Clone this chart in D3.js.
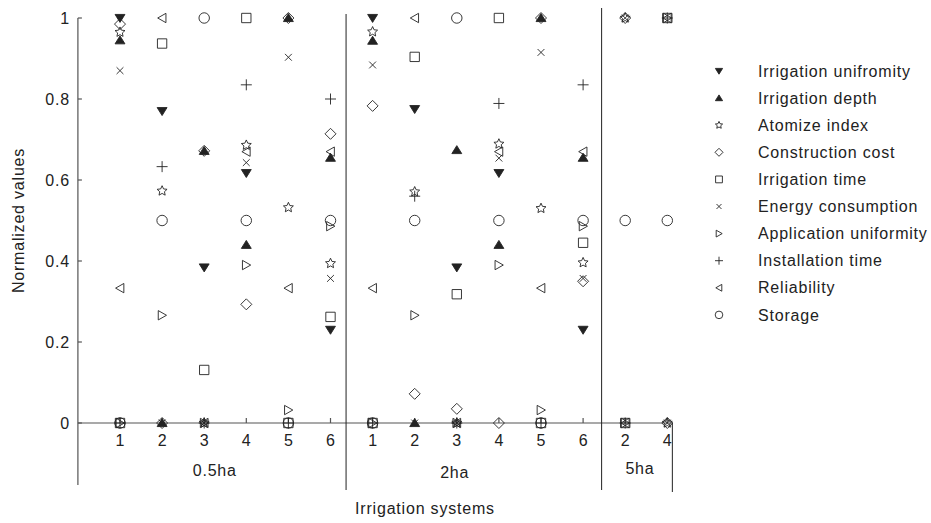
<!DOCTYPE html>
<html>
<head>
<meta charset="utf-8">
<script src="https://cdn.jsdelivr.net/npm/d3@7"></script>
<style>
  body { margin: 0; background: #fff; }
  svg text { font-family: "Liberation Sans", Arial, sans-serif; fill: #222; }
</style>
</head>
<body>
<svg id="chart"></svg>
<script>
(function(){
	///////////////////////////////////////////////////////////////////
	//// Data /////////////////////////////////////////////////////////
	///////////////////////////////////////////////////////////////////
	// x positions: 0.5ha systems 1-6, 2ha systems 1-6, 5ha systems 2 and 4
	const categories = ["1", "2", "3", "4", "5", "6", "1", "2", "3", "4", "5", "6", "2", "4"];
	const categoryGroup = [0, 0, 0, 0, 0, 0, 1, 1, 1, 1, 1, 1, 2, 2];
	const groupNames = ["0.5ha", "2ha", "5ha"];
	const yTicks = [0, 0.2, 0.4, 0.6, 0.8, 1];

	const uniformity   = [1, 0.77, 0.384, 0.617, null, 0.23, 1, 0.775, 0.384, 0.617, null, 0.23, null, null];
	const depth        = [0.945, 0, 0.672, 0.44, 1, 0.655, 0.944, 0, 0.674, 0.44, 1, 0.655, null, null];
	const atomize      = [0.965, 0.573, 0, 0.686, 0.532, 0.394, 0.966, 0.571, 0, 0.689, 0.53, 0.396, 1, 0];
	const construction = [0.985, 0, 0.672, 0.293, 1, 0.714, 0.783, 0.072, 0.035, 0, 1, 0.35, 1, 0];
	const irrTime      = [0, 0.937, 0.131, 1, 0, 0.262, 0, 0.904, 0.318, 1, 0, 0.445, 0, 1];
	const energy       = [0.87, 0, 0, 0.643, 0.903, 0.357, 0.884, 0, 0, 0.654, 0.915, 0.357, 1, 0];
	const application  = [0, 0.266, 0, 0.39, 0.032, 0.486, 0, 0.266, 0, 0.39, 0.032, 0.486, 0, 1];
	const installation = [0, 0.633, 0, 0.835, 0, 0.8, 0, 0.56, 0, 0.789, 0, 0.835, 0, 1];
	const reliability  = [0.333, 1, 0, 0.67, 0.333, 0.67, 0.333, 1, 0, 0.67, 0.333, 0.67, 0, 1];
	const storage      = [0, 0.5, 1, 0.5, 0, 0.5, 0, 0.5, 1, 0.5, 0, 0.5, 0.5, 0.5];

	const series = [
		{name: "Irrigation unifromity", shape: "down", values: uniformity},
		{name: "Irrigation depth", shape: "up", values: depth},
		{name: "Atomize index", shape: "star", values: atomize},
		{name: "Construction cost", shape: "diamond", values: construction},
		{name: "Irrigation time", shape: "square", values: irrTime},
		{name: "Energy consumption", shape: "cross", values: energy},
		{name: "Application uniformity", shape: "right", values: application},
		{name: "Installation time", shape: "plus", values: installation},
		{name: "Reliability", shape: "left", values: reliability},
		{name: "Storage", shape: "circle", values: storage}
	];

	///////////////////////////////////////////////////////////////////
	//// Set Up ///////////////////////////////////////////////////////
	///////////////////////////////////////////////////////////////////
	const W = 931, H = 523;
	const ink = "#222";
	const axisColor = "#555";

	const svg = d3.select("#chart")
			.attr("width", W)
			.attr("height", H);

	// index 0..14 along the x axis
	const x = d3.scaleLinear()
			.domain([0, 14])
			.range([77.9, 667.3]);

	const y = d3.scaleLinear()
			.domain([0, 1])
			.range([423, 18]);

	const font = {size: 16, spacing: 0.8};

	///////////////////////////////////////////////////////////////////
	// Marker shapes
	function markerPath(shape, s) {
		const p = d3.path();
		const h = s / 2;
		if (shape === "down") {
			p.moveTo(-h * 0.9, -h * 0.65); p.lineTo(h * 0.9, -h * 0.65); p.lineTo(0, h * 0.8); p.closePath();
		} else if (shape === "up") {
			p.moveTo(-h * 0.9, h * 0.65); p.lineTo(h * 0.9, h * 0.65); p.lineTo(0, -h * 0.8); p.closePath();
		} else if (shape === "star") {
			for (let i = 0; i < 10; i++) {
				const r = i % 2 ? h * 0.45 : h * 0.95;
				const a = -Math.PI / 2 + i * Math.PI / 5;
				if (i === 0) p.moveTo(r * Math.cos(a), r * Math.sin(a));
				else p.lineTo(r * Math.cos(a), r * Math.sin(a));
			}
			p.closePath();
		} else if (shape === "diamond") {
			p.moveTo(0, -h); p.lineTo(h, 0); p.lineTo(0, h); p.lineTo(-h, 0); p.closePath();
		} else if (shape === "square") {
			p.rect(-h * 0.85, -h * 0.85, h * 1.7, h * 1.7);
		} else if (shape === "cross") {
			const c = h * 0.62;
			p.moveTo(-c, -c); p.lineTo(c, c); p.moveTo(-c, c); p.lineTo(c, -c);
		} else if (shape === "plus") {
			p.moveTo(-h, 0); p.lineTo(h, 0); p.moveTo(0, -h); p.lineTo(0, h);
		} else if (shape === "right") {
			p.moveTo(-h * 0.7, -h * 0.85); p.lineTo(h * 0.8, 0); p.lineTo(-h * 0.7, h * 0.85); p.closePath();
		} else if (shape === "left") {
			p.moveTo(h * 0.7, -h * 0.85); p.lineTo(-h * 0.8, 0); p.lineTo(h * 0.7, h * 0.85); p.closePath();
		} else if (shape === "circle") {
			p.arc(0, 0, h * 0.95, 0, 2 * Math.PI);
		}
		return p.toString();
	}

	function isFilled(shape) {
		return shape === "down" || shape === "up";
	}

	///////////////////////////////////////////////////////////////////
	//// Axes /////////////////////////////////////////////////////////
	///////////////////////////////////////////////////////////////////
	const axes = svg.append("g")
			.attr("class", "axes")
			.style("stroke", axisColor)
			.style("stroke-width", 1.2)
			.style("fill", "none");

	// left axis line (extends below zero to enclose the group labels)
	axes.append("line")
			.attr("x1", x(0)).attr("x2", x(0))
			.attr("y1", y(1)).attr("y2", 485);

	// zero line
	axes.append("line")
			.attr("x1", x(0)).attr("x2", x(14.12))
			.attr("y1", y(0)).attr("y2", y(0));

	// y ticks (inside)
	axes.selectAll(".ytick")
		.data(yTicks)
		.enter().append("line")
			.attr("class", "ytick")
			.attr("x1", x(0)).attr("x2", x(0) + 4)
			.attr("y1", d => y(d)).attr("y2", d => y(d));

	// x ticks (inside)
	axes.selectAll(".xtick")
		.data(categories)
		.enter().append("line")
			.attr("class", "xtick")
			.attr("x1", (d, i) => x(i + 1)).attr("x2", (d, i) => x(i + 1))
			.attr("y1", y(0)).attr("y2", y(0) - 5);

	// group separators
	const separators = [
		{at: 6.37, top: 14, bottom: 490},
		{at: 12.44, top: 8, bottom: 490},
		{at: 14.12, top: y(0), bottom: 492}
	];
	axes.selectAll(".sep")
		.data(separators)
		.enter().append("line")
			.attr("class", "sep")
			.style("stroke", ink)
			.style("stroke-width", 1)
			.attr("x1", d => x(d.at)).attr("x2", d => x(d.at))
			.attr("y1", d => d.top).attr("y2", d => d.bottom);

	// y tick labels
	svg.selectAll(".ylabel")
		.data(yTicks)
		.enter().append("text")
			.attr("class", "ylabel")
			.attr("x", 70)
			.attr("y", d => y(d))
			.attr("dy", "0.35em")
			.attr("text-anchor", "end")
			.style("font-size", font.size + "px")
			.style("letter-spacing", font.spacing + "px")
			.text(d => d3.format("")(d));

	// x tick labels
	svg.selectAll(".xlabel")
		.data(categories)
		.enter().append("text")
			.attr("class", "xlabel")
			.attr("x", (d, i) => x(i + 1))
			.attr("y", 446)
			.attr("text-anchor", "middle")
			.style("font-size", font.size + "px")
			.text(d => d);

	// group labels
	const groupCenters = [3.25, 8.95, 13.35];
	svg.selectAll(".glabel")
		.data(groupNames)
		.enter().append("text")
			.attr("class", "glabel")
			.attr("x", (d, i) => x(groupCenters[i]))
			.attr("y", (d, i) => [476, 478, 474][i])
			.attr("text-anchor", "middle")
			.style("font-size", font.size + "px")
			.style("letter-spacing", font.spacing + "px")
			.text(d => d);

	// axis titles
	svg.append("text")
			.attr("x", 425)
			.attr("y", 514)
			.attr("text-anchor", "middle")
			.style("font-size", font.size + "px")
			.style("letter-spacing", font.spacing + "px")
			.text("Irrigation systems");

	svg.append("text")
			.attr("transform", `translate(24, ${y(0.5)}) rotate(-90)`)
			.attr("text-anchor", "middle")
			.style("font-size", font.size + "px")
			.style("letter-spacing", font.spacing + "px")
			.text("Normalized values");

	///////////////////////////////////////////////////////////////////
	//// Points ///////////////////////////////////////////////////////
	///////////////////////////////////////////////////////////////////
	const points = svg.append("g")
			.attr("class", "points");

	series.forEach(s => {
		points.selectAll(".pt-" + s.shape)
			.data(s.values.map((v, i) => ({i: i, v: v})).filter(d => d.v !== null))
			.enter().append("path")
				.attr("class", "pt-" + s.shape)
				.attr("transform", d => `translate(${x(d.i + 1)}, ${y(d.v)})`)
				.attr("d", markerPath(s.shape, 11))
				.style("fill", isFilled(s.shape) ? ink : "none")
				.style("stroke", ink)
				.style("stroke-width", 0.9);
	});

	///////////////////////////////////////////////////////////////////
	//// Legend ///////////////////////////////////////////////////////
	///////////////////////////////////////////////////////////////////
	const legend = svg.append("g")
			.attr("class", "legend")
			.attr("transform", "translate(719, 71)");

	const rows = legend.selectAll(".row")
		.data(series)
		.enter().append("g")
			.attr("class", "row")
			.attr("transform", (d, i) => `translate(0, ${i * 27.1})`);

	rows.append("path")
			.attr("d", d => markerPath(d.shape, 8))
			.style("fill", d => isFilled(d.shape) ? ink : "none")
			.style("stroke", ink)
			.style("stroke-width", 0.9);

	rows.append("text")
			.attr("x", 39)
			.attr("dy", "0.35em")
			.style("font-size", font.size + "px")
			.style("letter-spacing", font.spacing + "px")
			.text(d => d.name);
}());
</script>
</body>
</html>
